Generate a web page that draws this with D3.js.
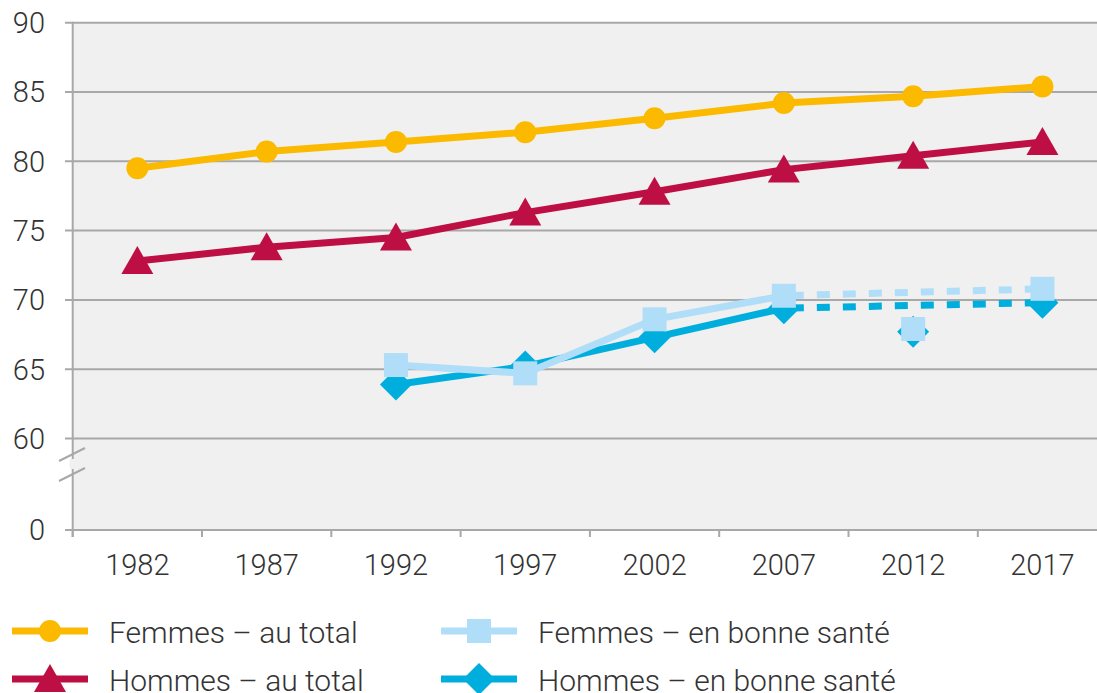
<!DOCTYPE html>
<html>
<head>
<meta charset="utf-8">
<script src="https://cdn.jsdelivr.net/npm/d3@7"></script>
<style>
  body { margin: 0; background: #fff; }
  text { font-family: Roboto, "Noto Sans", sans-serif; font-weight: 300; fill: #333; }
</style>
</head>
<body>
<div id="chart"></div>
<script>
var years = ['1982', '1987', '1992', '1997', '2002', '2007', '2012', '2017'];
var yTicks = [0, 60, 65, 70, 75, 80, 85, 90];

var femmesTotal = [79.5, 80.7, 81.4, 82.1, 83.1, 84.2, 84.7, 85.4];
var hommesTotal = [72.8, 73.8, 74.5, 76.3, 77.8, 79.4, 80.4, 81.4];
var femmesSante = [null, null, 65.3, 64.7, 68.6, 70.3, 67.9, 70.8];
var hommesSante = [null, null, 63.9, 65.2, 67.3, 69.4, 67.7, 69.8];

var seriesNames = ['Femmes – au total', 'Hommes – au total', 'Femmes – en bonne santé', 'Hommes – en bonne santé'];

var width = 1097, height = 693;
var margin = { top: 22.7, left: 72.7, bottom: 530 };

var colors = {
  femmesTotal: '#fbba00',
  hommesTotal: '#be0f45',
  femmesSante: '#b0def8',
  hommesSante: '#00aede'
};

var svg = d3.select('#chart')
  .append('svg')
  .attr('width', width)
  .attr('height', height);

// x: one band per survey year, last band runs past the edge
var x = d3.scaleBand()
  .domain(years)
  .range([margin.left, margin.left + 8 * 129.3]);

// y: broken axis, 0 squeezed below 60
var y = d3.scaleLinear()
  .domain([0, 60, 90])
  .range([margin.bottom, 438.5, margin.top]);

function cx(i) { return x(years[i]) + x.bandwidth() / 2; }

// plot background
svg.append('rect')
  .attr('x', margin.left)
  .attr('y', margin.top)
  .attr('width', width - margin.left)
  .attr('height', margin.bottom - margin.top)
  .attr('fill', '#f0f0f0');

// grid lines + y labels
var grid = svg.append('g');
grid.selectAll('line')
  .data(yTicks)
  .enter().append('line')
    .attr('x1', 65)
    .attr('x2', width)
    .attr('y1', function(d) { return y(d); })
    .attr('y2', function(d) { return y(d); })
    .attr('stroke', '#a8a8a8')
    .attr('stroke-width', 2);

grid.selectAll('text')
  .data(yTicks)
  .enter().append('text')
    .attr('x', 45)
    .attr('y', function(d) { return y(d); })
    .attr('dy', '0.36em')
    .attr('text-anchor', 'end')
    .style('font-size', '29px')
    .text(function(d) { return d; });

// y axis line
svg.append('line')
  .attr('x1', margin.left).attr('x2', margin.left)
  .attr('y1', margin.top - 1).attr('y2', margin.bottom + 7)
  .attr('stroke', '#a8a8a8')
  .attr('stroke-width', 2);

// axis break marks
svg.append('rect')
  .attr('x', margin.left - 3).attr('y', 459)
  .attr('width', 6).attr('height', 10)
  .attr('fill', '#f0f0f0');
[[461, 448], [481, 468]].forEach(function(p) {
  svg.append('line')
    .attr('x1', 59).attr('y1', p[0])
    .attr('x2', 85).attr('y2', p[1])
    .attr('stroke', '#a8a8a8')
    .attr('stroke-width', 2);
});

// x ticks between bands + labels
var xb = svg.append('g');
xb.selectAll('line')
  .data(years)
  .enter().append('line')
    .attr('x1', function(d) { return x(d); })
    .attr('x2', function(d) { return x(d); })
    .attr('y1', margin.bottom)
    .attr('y2', margin.bottom + 7)
    .attr('stroke', '#a8a8a8')
    .attr('stroke-width', 2);

xb.selectAll('text')
  .data(years)
  .enter().append('text')
    .attr('x', function(d) { return x(d) + x.bandwidth() / 2; })
    .attr('y', 575)
    .attr('text-anchor', 'middle')
    .style('font-size', '29px')
    .text(function(d) { return d; });

// marker shapes
function marker(type, px, py) {
  if (type === 'circle') {
    return 'M' + (px - 11) + ',' + py + 'a11,11 0 1,0 22,0a11,11 0 1,0 -22,0Z';
  }
  if (type === 'triangle') {
    return 'M' + px + ',' + (py - 15) + 'L' + (px + 16) + ',' + (py + 13) + 'L' + (px - 16) + ',' + (py + 13) + 'Z';
  }
  if (type === 'square') {
    return 'M' + (px - 12) + ',' + (py - 12) + 'h24v24h-24Z';
  }
  return 'M' + px + ',' + (py - 16) + 'L' + (px + 16) + ',' + py + 'L' + px + ',' + (py + 16) + 'L' + (px - 16) + ',' + py + 'Z';
}

var line = d3.line()
  .defined(function(d) { return d.v != null; })
  .x(function(d) { return cx(d.i); })
  .y(function(d) { return y(d.v); });

function drawSeries(values, color, type, solidTo) {
  var pts = values.map(function(v, i) { return { i: i, v: v }; });
  var g = svg.append('g');
  var solid = pts.filter(function(d) { return d.i <= solidTo; });
  g.append('path')
    .attr('d', line(solid))
    .attr('fill', 'none')
    .attr('stroke', color)
    .attr('stroke-width', 7);
  if (solidTo < values.length - 1) {
    // dotted link 2007 -> 2017, 2012 stands apart
    var last = values.length - 1;
    g.append('path')
      .attr('d', line([pts[solidTo], pts[last]]))
      .attr('fill', 'none')
      .attr('stroke', color)
      .attr('stroke-width', 7)
      .attr('stroke-dasharray', '13,13')
      .attr('stroke-dashoffset', -7);
  }
  g.selectAll('path.mk')
    .data(pts.filter(function(d) { return d.v != null; }))
    .enter().append('path')
      .attr('class', 'mk')
      .attr('d', function(d) { return marker(type, cx(d.i), y(d.v)); })
      .attr('fill', color);
}

drawSeries(femmesTotal, colors.femmesTotal, 'circle', 7);
drawSeries(hommesTotal, colors.hommesTotal, 'triangle', 7);
drawSeries(hommesSante, colors.hommesSante, 'diamond', 5);
drawSeries(femmesSante, colors.femmesSante, 'square', 5);

// legend
var legendItems = [
  { name: seriesNames[0], color: colors.femmesTotal, type: 'circle', x: 12, y: 631 },
  { name: seriesNames[1], color: colors.hommesTotal, type: 'triangle', x: 12, y: 679 },
  { name: seriesNames[2], color: colors.femmesSante, type: 'square', x: 441, y: 631 },
  { name: seriesNames[3], color: colors.hommesSante, type: 'diamond', x: 441, y: 679 }
];

var legend = svg.selectAll('g.legend')
  .data(legendItems)
  .enter().append('g')
    .attr('class', 'legend');

legend.append('line')
  .attr('x1', function(d) { return d.x; })
  .attr('x2', function(d) { return d.x + 76; })
  .attr('y1', function(d) { return d.y; })
  .attr('y2', function(d) { return d.y; })
  .attr('stroke', function(d) { return d.color; })
  .attr('stroke-width', 7);

legend.append('path')
  .attr('d', function(d) { return marker(d.type, d.x + 38, d.y); })
  .attr('fill', function(d) { return d.color; });

legend.append('text')
  .attr('x', function(d) { return d.x + 97; })
  .attr('y', function(d) { return d.y + 12; })
  .style('font-size', '30px')
  .text(function(d) { return d.name; });
</script>
</body>
</html>
